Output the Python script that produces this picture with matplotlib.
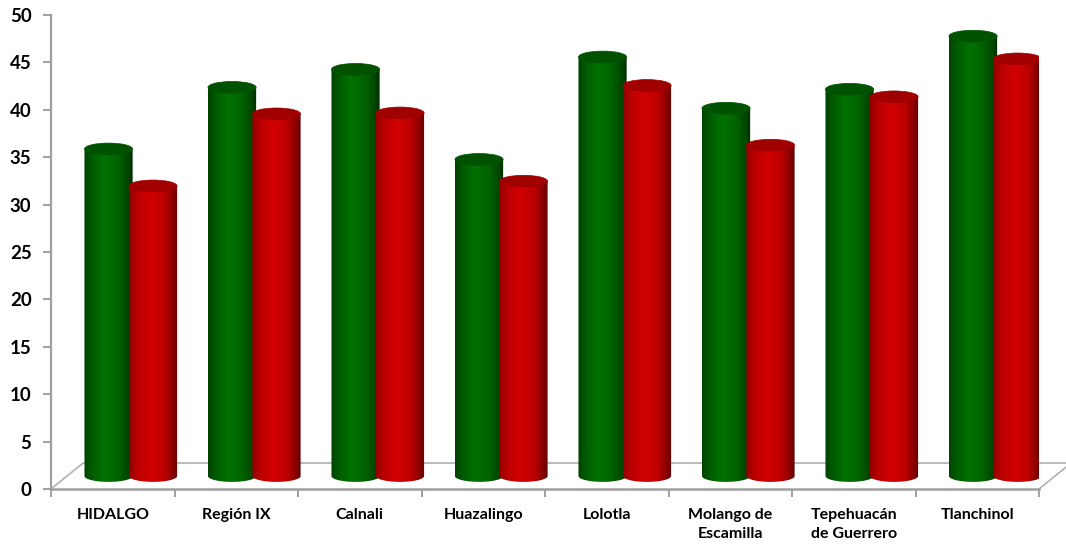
import numpy as np
import matplotlib
matplotlib.use("Agg")
import matplotlib.pyplot as plt
from matplotlib.path import Path
from matplotlib.patches import PathPatch, Ellipse
from matplotlib.colors import LinearSegmentedColormap

# Datos
categorias = ["HIDALGO", "Región IX", "Calnali", "Huazalingo", "Lolotla",
              "Molango de\nEscamilla", "Tepehuacán\nde Guerrero", "Tlanchinol"]
serie_verde = [34.5, 41.0, 42.9, 33.4, 44.2, 38.8, 40.8, 46.4]
serie_roja = [30.6, 38.2, 38.3, 31.1, 41.2, 34.9, 40.0, 44.0]
yticks = list(range(0, 51, 5))

# Estilo
plt.rcParams['font.family'] = ['Lato', 'DejaVu Sans']
gris = "#a0a0a0"
cmap_verde = LinearSegmentedColormap.from_list(
    "verde", [(0, "#004200"), (0.15, "#005a00"), (0.42, "#007200"),
              (0.7, "#006200"), (0.9, "#004600"), (1, "#002c00")])
cmap_rojo = LinearSegmentedColormap.from_list(
    "rojo", [(0, "#920000"), (0.18, "#bc0000"), (0.45, "#d20000"),
             (0.72, "#bc0000"), (0.9, "#880000"), (1, "#600000")])
tapa_verde = "#005200"
tapa_rojo = "#a00000"

# Geometria pseudo-3D (en unidades de datos)
base = 1.37        # centro de la elipse inferior
ry = 0.62          # semi-altura de las elipses
ancho = 0.39       # ancho de cada cilindro
prof_x, prof_y = 0.26, 2.74   # desplazamiento del fondo del piso

fig = plt.figure(figsize=(10.66, 5.49), dpi=100)
ax = fig.add_axes([51 / 1066, 60 / 549, 988 / 1066, 474 / 549])
ax.set_xlim(-0.5, 7.5)
ax.set_ylim(0, 50)

# Piso
x_l, x_r = -0.5, 7.5
ax.plot([x_l, x_l + prof_x, x_r + prof_x], [0, prof_y, prof_y],
        color="#b0b0b0", lw=1.2, clip_on=False, zorder=1)
ax.plot([x_r, x_r + prof_x], [0, prof_y], color="#b0b0b0", lw=1.2,
        clip_on=False, zorder=1)


def cilindro(xc, valor, cmap, tapa):
    x0, x1 = xc - ancho / 2, xc + ancho / 2
    top = base + valor
    t = np.linspace(np.pi, 2 * np.pi, 40)
    arco = np.column_stack([xc + ancho / 2 * np.cos(t), base + ry * np.sin(t)])
    verts = np.vstack([[x0, top], arco, [x1, top], [x0, top]])
    codes = [Path.MOVETO] + [Path.LINETO] * (len(verts) - 2) + [Path.CLOSEPOLY]
    cuerpo = PathPatch(Path(verts, codes), facecolor="none", edgecolor="none")
    ax.add_patch(cuerpo)
    grad = np.linspace(0, 1, 200).reshape(1, -1)
    im = ax.imshow(grad, cmap=cmap, extent=(x0, x1, base - ry, top),
                   aspect="auto", interpolation="bilinear", zorder=2)
    im.set_clip_path(cuerpo)
    ax.add_patch(Ellipse((xc, top), ancho, 2 * ry, facecolor=tapa,
                         edgecolor=tapa, lw=0.5, zorder=3))


for i in range(len(categorias)):
    cilindro(i - 0.034, serie_verde[i], cmap_verde, tapa_verde)
    cilindro(i + 0.326, serie_roja[i], cmap_rojo, tapa_rojo)

ax.set_xlim(-0.5, 7.5)
ax.set_ylim(0, 50)

# Ejes
for s in ["top", "right"]:
    ax.spines[s].set_visible(False)
ax.spines["left"].set_color(gris)
ax.spines["left"].set_linewidth(1.6)
ax.spines["bottom"].set_color(gris)
ax.spines["bottom"].set_linewidth(1.8)

ax.set_yticks(yticks)
ax.set_yticklabels([str(v) for v in yticks], fontsize=13.5, fontweight="bold")
ax.tick_params(axis="y", color=gris, length=6, width=1.4, pad=8)

ax.set_xticks(np.arange(-0.5, 8, 1))
ax.set_xticklabels([])
ax.tick_params(axis="x", which="major", color=gris, length=6, width=1.4)
ax.set_xticks(np.arange(len(categorias)), minor=True)
ax.set_xticklabels(categorias, minor=True, fontsize=11.5, fontweight="bold",
                   linespacing=1.4, va="top")
ax.tick_params(axis="x", which="minor", length=0, pad=14)

fig.savefig("out.png", dpi=100)
